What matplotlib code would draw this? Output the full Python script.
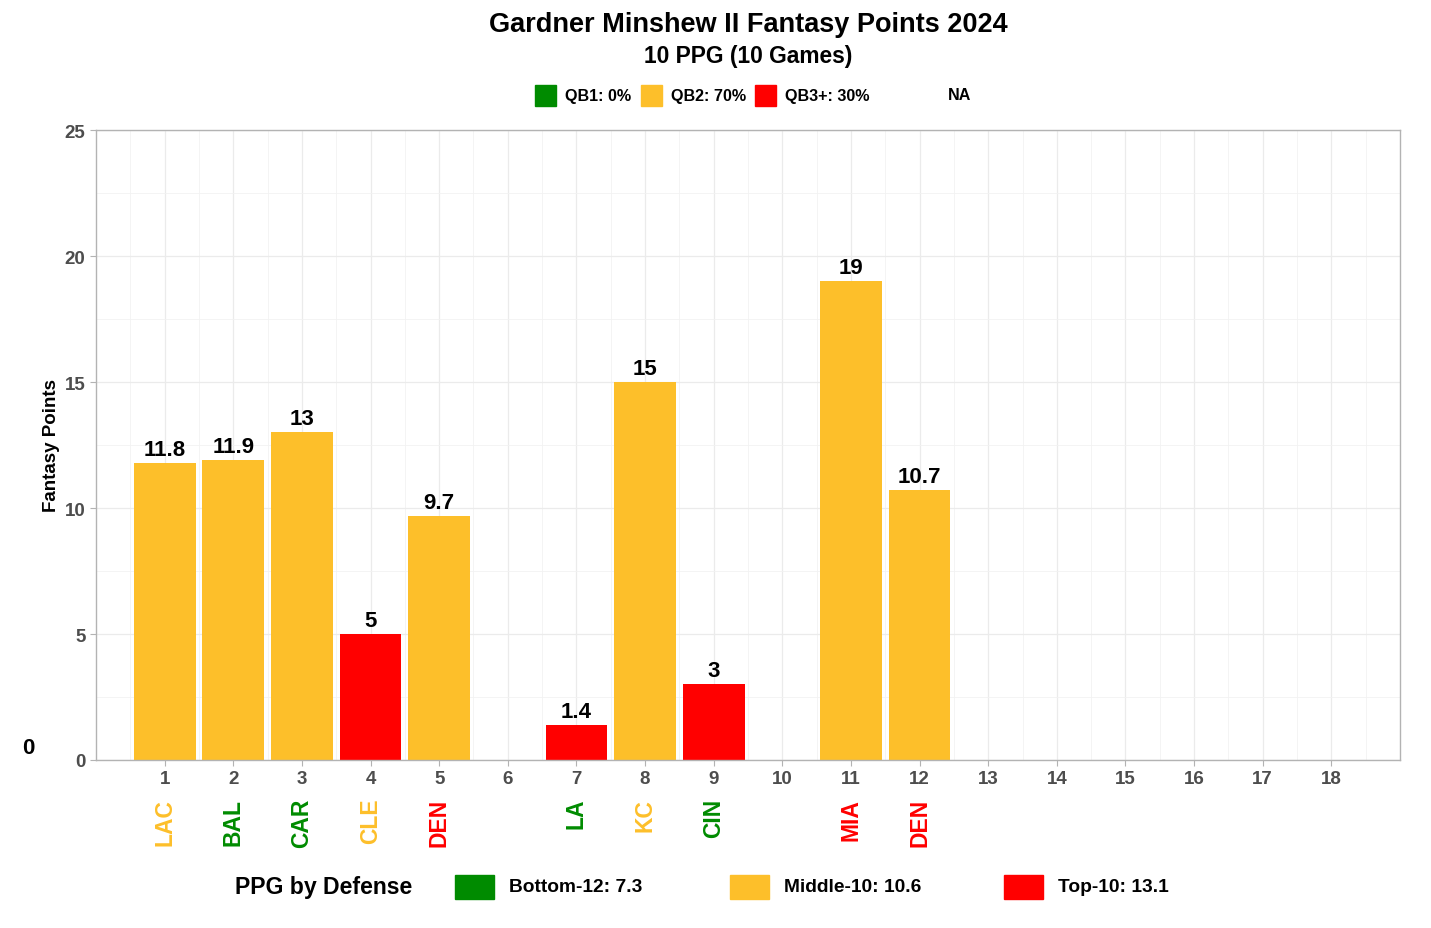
import numpy as np
import matplotlib
matplotlib.use("Agg")
import matplotlib.pyplot as plt
from matplotlib.patches import Rectangle

plt.rcParams["font.family"] = ["Liberation Sans", "DejaVu Sans"]
plt.rcParams["font.weight"] = "bold"

# ---------------------------------------------------------------------------
# Data
# ---------------------------------------------------------------------------
weeks = [1, 2, 3, 4, 5, 7, 8, 9, 11, 12]
points = [11.8, 11.9, 13, 5, 9.7, 1.4, 15, 3, 19, 10.7]
point_labels = ["11.8", "11.9", "13", "5", "9.7", "1.4", "15", "3", "19", "10.7"]
qb_tier = ["QB2", "QB2", "QB2", "QB3+", "QB2", "QB3+", "QB2", "QB3+", "QB2", "QB2"]
opponents = ["LAC", "BAL", "CAR", "CLE", "DEN", "LA", "KC", "CIN", "MIA", "DEN"]
def_tier = ["Middle", "Bottom", "Bottom", "Middle", "Top",
            "Bottom", "Middle", "Bottom", "Top", "Top"]
all_weeks = list(range(1, 19))

qb_legend = ["QB1: 0%", "QB2: 70%", "QB3+: 30%"]
def_legend = ["Bottom-12: 7.3", "Middle-10: 10.6", "Top-10: 13.1"]

GREEN, GOLD, RED = "#008B00", "#FDBF2A", "#FF0000"
qb_colors = {"QB1": GREEN, "QB2": GOLD, "QB3+": RED}
def_colors = {"Bottom": GREEN, "Middle": GOLD, "Top": RED}

# ---------------------------------------------------------------------------
# Figure
# ---------------------------------------------------------------------------
W, H = 1431, 929
fig = plt.figure(figsize=(W / 100, H / 100), dpi=100)
ax = fig.add_axes([96 / W, 1 - 761 / H, (1400 - 96) / W, (761 - 131) / H])

ax.bar(weeks, points, width=0.9,
       color=[qb_colors[t] for t in qb_tier], zorder=2)
for x, y, lab in zip(weeks, points, point_labels):
    ax.text(x, y + 0.12, lab, ha="center", va="bottom",
            fontsize=16, fontweight="bold", color="black")

ax.set_xlim(0, 19)
ax.set_ylim(0, 25)
ax.set_xticks(all_weeks)
ax.set_xticks(np.arange(0.5, 19, 1), minor=True)
ax.set_yticks(range(0, 26, 5))
ax.set_yticks(np.arange(2.5, 25, 5), minor=True)
ax.grid(True, which="major", color="#EBEBEB", lw=0.9, zorder=0)
ax.grid(True, which="minor", color="#F2F2F2", lw=0.6, zorder=0)
ax.tick_params(which="major", labelsize=13.5, labelcolor="#4D4D4D",
               color="#B3B3B3", length=4, width=0.8)
ax.tick_params(which="minor", length=0)
for lab in ax.get_xticklabels() + ax.get_yticklabels():
    lab.set_fontweight("bold")
for sp in ax.spines.values():
    sp.set_color("#B3B3B3")
    sp.set_linewidth(1.0)

ax.set_ylabel("Fantasy Points", fontsize=13.5, fontweight="bold")
ax.yaxis.set_label_coords(-0.0275, 0.5)

# opponent labels under the weeks
for x, team, tier in zip(weeks, opponents, def_tier):
    ax.text(x, -1.5, team, rotation=90, ha="center", va="top",
            fontsize=16.5, fontweight="bold", color=def_colors[tier])

fig.text(28 / W, 1 - 748 / H, "0", ha="center", va="center",
         fontsize=16, fontweight="bold")

# titles
cx = 748 / W
fig.text(cx, 1 - 25 / H, "Gardner Minshew II Fantasy Points 2024",
         ha="center", va="center", fontsize=19.5, fontweight="bold")
fig.text(cx, 1 - 57 / H, "10 PPG (10 Games)",
         ha="center", va="center", fontsize=16.4, fontweight="bold")

# top legend (QB tier)
sq = 21
for x0, lab, col in zip([535, 641, 755], qb_legend, [GREEN, GOLD, RED]):
    fig.add_artist(Rectangle((x0 / W, 1 - 107 / H), sq / W, sq / H,
                             transform=fig.transFigure, color=col))
    fig.text((x0 + 30) / W, 1 - 96 / H, lab, ha="left", va="center",
             fontsize=11.6, fontweight="bold")
fig.text(948 / W, 1 - 96 / H, "NA", ha="left", va="center",
         fontsize=11.6, fontweight="bold")

# bottom legend (defense tier)
fig.text(235 / W, 1 - 888 / H, "PPG by Defense", ha="left", va="center",
         fontsize=16.6, fontweight="bold")
for x0, lab, col in zip([455, 730, 1004], def_legend, [GREEN, GOLD, RED]):
    fig.add_artist(Rectangle((x0 / W, 1 - 900 / H), 39 / W, 24 / H,
                             transform=fig.transFigure, color=col))
    fig.text((x0 + 54) / W, 1 - 888 / H, lab, ha="left", va="center",
             fontsize=13.8, fontweight="bold")

fig.savefig("out.png", dpi=100)
